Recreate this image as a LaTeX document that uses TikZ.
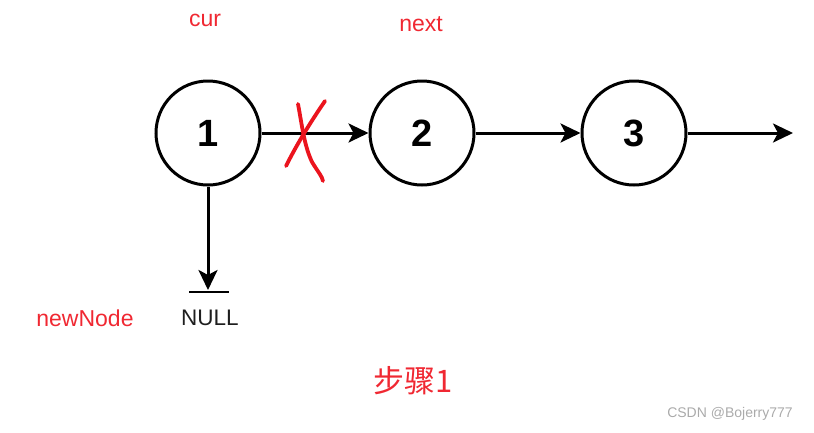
\documentclass[tikz,border=0pt]{standalone}
\usepackage{fontspec}
\setmainfont{Liberation Sans}
\newfontfamily\cjk{Noto Sans CJK SC}
\usetikzlibrary{arrows.meta}
\definecolor{lblred}{RGB}{240,40,50}
\definecolor{nullgray}{RGB}{30,30,30}
\definecolor{wmgray}{RGB}{170,170,170}
\definecolor{crossred}{RGB}{235,20,30}
\begin{document}
\begin{tikzpicture}[x=1pt,y=-1pt,
  listnode/.style={draw=black,line width=3pt,circle,minimum size=104pt,inner sep=0pt,font=\fontsize{38}{38}\selectfont\bfseries},
  link/.style={line width=3pt,-{Stealth[length=20pt,width=19pt,inset=5pt]}},
  redlbl/.style={text=lblred,font=\fontsize{23}{23}\selectfont},
  cross/.style={draw=crossred,line width=3.8pt,line cap=round,line join=round}]
\useasboundingbox (0,0) rectangle (814,432);
\node[listnode] (n1) at (208,133) {1};
\node[listnode] (n2) at (422,133) {2};
\node[listnode] (n3) at (634,133) {3};
\coordinate (tail) at (793,133);
\coordinate (down) at (208,290);
\draw[link] (n1) -- (n2);
\draw[link] (n2) -- (n3);
\draw[link] (n3) -- (tail);
\draw[link] (n1.south) -- (down);
\coordinate (barl) at (189,292);
\coordinate (barr) at (229,292);
\draw[line width=1.8pt] (barl) -- (barr);
\node[redlbl] (cur) at (205,20) {cur};
\node[redlbl] (next) at (421,24) {next};
\node[redlbl] (newnode) at (85,318) {newNode};
\node[text=nullgray,font=\fontsize{22.5}{22.5}\selectfont] (null) at (210,318) {NULL};
\node[text=lblred,font=\fontsize{31}{31}\selectfont] (step) at (413,381) {\cjk 步骤1};
\node[text=wmgray,font=\fontsize{14}{14}\selectfont] (wm) at (730,414) {CSDN @Bojerry777};
\draw[cross] (298,104) .. controls (302,125) and (304,145) .. (312,162) .. controls (318,172) and (322,176) .. (323,181);
\draw[cross] (325,101) .. controls (312,120) and (298,142) .. (286,166);
\end{tikzpicture}
\end{document}
